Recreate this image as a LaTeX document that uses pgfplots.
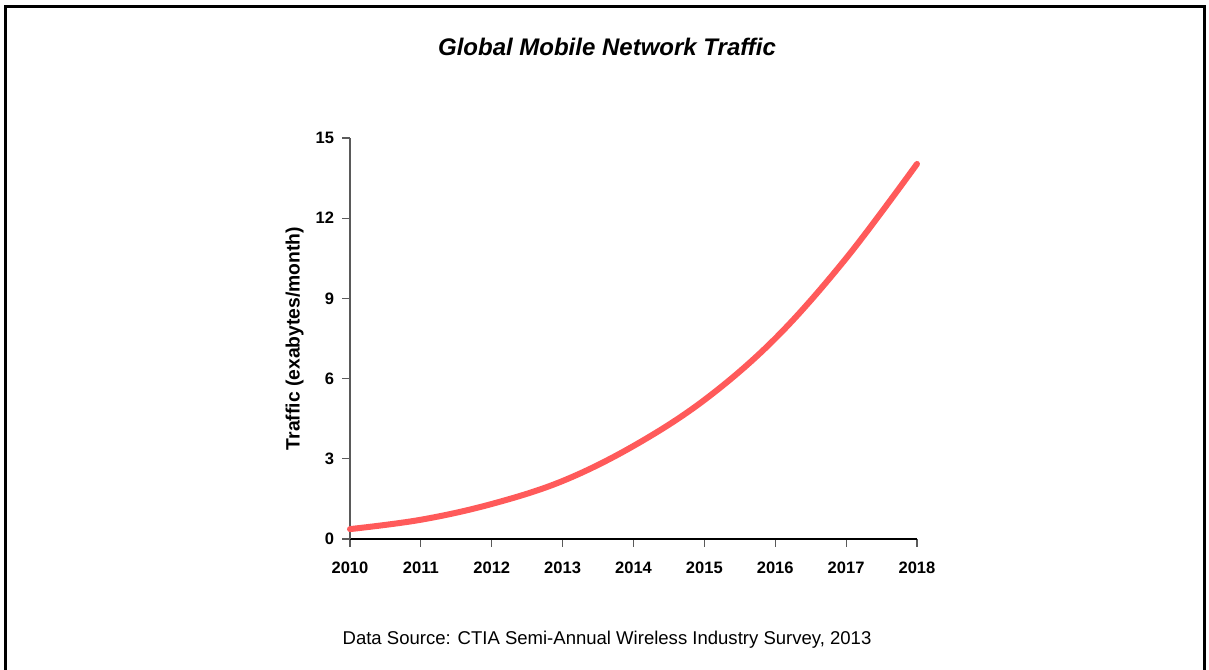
\documentclass[border=0pt]{standalone}
\usepackage{pgfplots}
\pgfplotsset{compat=1.18}
\usepackage{fontspec}
\setmainfont{Liberation Sans}
\definecolor{linered}{RGB}{255,90,90}
\definecolor{axgray}{RGB}{90,90,90}
\begin{document}
\begin{tikzpicture}[x=0.75pt,y=0.75pt]
\useasboundingbox (0,0) rectangle (1209,670);
\draw[line width=2.25pt] (5,-10) -- (5,663) -- (1204,663) -- (1204,-10);
\node[font=\bfseries\itshape\fontsize{18}{21}\selectfont] at (607,623) {Global Mobile Network Traffic};
\node[font=\fontsize{13.9}{16}\selectfont] at (607,30) {Data Source: CTIA Semi-Annual Wireless Industry Survey, 2013};
\begin{axis}[
  at={(262.5pt,98.25pt)}, anchor=south west,
  scale only axis, width=425.25pt, height=300.75pt,
  xmin=2010, xmax=2018, ymin=0, ymax=15,
  axis lines*=left,
  xtick={2010,2011,...,2018}, ytick={0,3,...,15},
  tick align=outside, major tick length=6pt,
  /pgf/number format/.cd, 1000 sep={}, assume math mode=true, /pgfplots/.cd,
  tick label style={font=\bfseries\fontsize{12.4}{14}\selectfont},
  x tick label style={yshift=-7.5pt},
  y tick label style={xshift=-2.5pt},
  tick style={axgray, line width=0.9pt},
  x axis line style={black, line width=0.9pt},
  y axis line style={axgray, line width=0.9pt},
  ylabel={Traffic (exabytes/month)},
  ylabel style={font=\bfseries\fontsize{14.5}{16}\selectfont, yshift=2pt},
  clip=false,
]
\addplot[color=linered, line width=4.5pt, smooth, tension=0.6, line cap=round] coordinates {
(2010,0.37) (2011,0.72) (2012,1.31) (2013,2.17) (2014,3.48) (2015,5.2) (2016,7.5) (2017,10.5) (2018,14.03)
};
\end{axis}
\end{tikzpicture}
\end{document}
